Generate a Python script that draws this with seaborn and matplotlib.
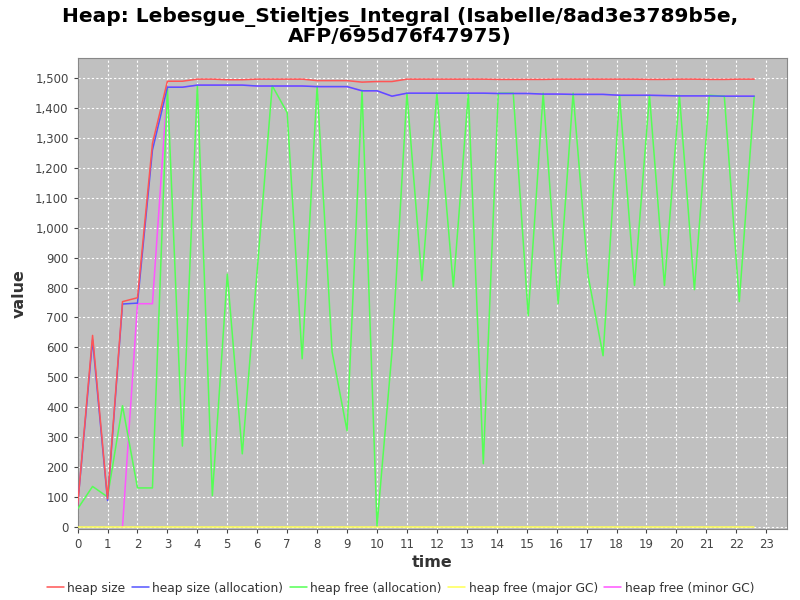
import numpy as np
import pandas as pd
import matplotlib
matplotlib.use("Agg")
import matplotlib.pyplot as plt
import seaborn as sns
from matplotlib.ticker import FuncFormatter, MultipleLocator

# ==============================================================================
# DATOS
# ==============================================================================
tiempo = [0.0, 0.5, 1.0, 1.5, 2.0, 2.5, 3.0, 3.5, 4.0, 4.5, 5.0, 5.5, 6.0, 6.5,
          7.0, 7.5, 8.0, 8.5, 9.0, 9.5, 10.0, 10.5, 11.0, 11.5, 12.0, 12.55,
          13.05, 13.55, 14.05, 14.55, 15.05, 15.55, 16.05, 16.55, 17.05, 17.55,
          18.1, 18.6, 19.1, 19.6, 20.1, 20.6, 21.1, 21.6, 22.1, 22.6]

heap_size = [70, 640, 94, 753, 766, 1282, 1490, 1490, 1497, 1497, 1495, 1495,
             1497, 1497, 1497, 1497, 1492, 1492, 1492, 1487, 1489, 1489, 1497,
             1497, 1497, 1497, 1497, 1497, 1496, 1496, 1496, 1496, 1497, 1497,
             1497, 1497, 1497, 1497, 1496, 1496, 1497, 1497, 1496, 1496, 1497,
             1497]

heap_size_alloc = [70, 625, 88, 745, 748, 1260, 1470, 1470, 1477, 1477, 1477,
                   1477, 1474, 1474, 1474, 1474, 1472, 1472, 1472, 1458, 1458,
                   1440, 1450, 1450, 1450, 1450, 1450, 1450, 1449, 1449, 1449,
                   1447, 1447, 1446, 1446, 1446, 1443, 1443, 1443, 1442, 1441,
                   1441, 1441, 1440, 1440, 1440]

heap_free_alloc = [60, 135, 100, 405, 130, 130, 1470, 270, 1475, 104, 845, 244,
                   860, 1475, 1385, 562, 1473, 585, 321, 1460, 3, 585, 1450,
                   823, 1450, 803, 1450, 211, 1450, 1450, 706, 1450, 746, 1450,
                   840, 572, 1443, 807, 1443, 807, 1443, 793, 1443, 1440, 753,
                   1440]

heap_free_major = [0] * len(tiempo)

tiempo_minor = tiempo[3:]
heap_free_minor = [0, 746, 746] + heap_size_alloc[6:]

SERIES = [
    ("heap size", tiempo, heap_size, "#ff5555"),
    ("heap size (allocation)", tiempo, heap_size_alloc, "#5555ff"),
    ("heap free (allocation)", tiempo, heap_free_alloc, "#55ff55"),
    ("heap free (major GC)", tiempo, heap_free_major, "#ffff55"),
    ("heap free (minor GC)", tiempo_minor, heap_free_minor, "#ff55ff"),
]

# ==============================================================================
# GRAFICO
# ==============================================================================
sns.set_style("ticks")
plt.rcParams["font.family"] = ["DejaVu Sans"]

fig = plt.figure(figsize=(8, 6), dpi=100)
ax = fig.add_axes([0.097, 0.118, 0.887, 0.785])
ax.set_facecolor("#c0c0c0")

# JFreeChart pinta la primera serie encima de las demas
n = len(SERIES)
for i, (nombre, xs, ys, color) in enumerate(SERIES):
    df = pd.DataFrame({"time": xs, "value": ys})
    sns.lineplot(data=df, x="time", y="value", ax=ax, color=color, lw=1.1,
                 label=nombre, sort=False, estimator=None, zorder=10 + n - i)

ax.set_xlim(0, 23.7)
ax.set_ylim(-8, 1567)
ax.xaxis.set_major_locator(MultipleLocator(1))
ax.yaxis.set_major_locator(MultipleLocator(100))
ax.yaxis.set_major_formatter(FuncFormatter(lambda v, p: f"{int(v):,}"))
ax.grid(True, color="white", linestyle=(0, (2, 2)), lw=0.8, zorder=1)
ax.set_axisbelow(True)
ax.tick_params(labelsize=8.5, colors="#444444", length=3, width=0.8)
for sp in ax.spines.values():
    sp.set_color("#888888")

ax.set_xlabel("time", fontsize=11.5, color="#333333", fontweight="semibold", labelpad=3)
ax.set_ylabel("value", fontsize=11.5, color="#333333", fontweight="semibold", labelpad=6)

# titulo centrado en la figura, no en los ejes
fig.text(0.5, 0.988, "Heap: Lebesgue_Stieltjes_Integral (Isabelle/8ad3e3789b5e,\nAFP/695d76f47975)",
         ha="center", va="top", fontsize=14.5, fontweight="bold", color="black",
         linespacing=1.0)

ax.legend(loc="lower center", bbox_to_anchor=(0.455, -0.162), ncol=5,
          frameon=False, fontsize=8.8, handlelength=1.4, handletextpad=0.3,
          columnspacing=0.5, labelcolor="#333333")

fig.savefig("out.png", dpi=100)
